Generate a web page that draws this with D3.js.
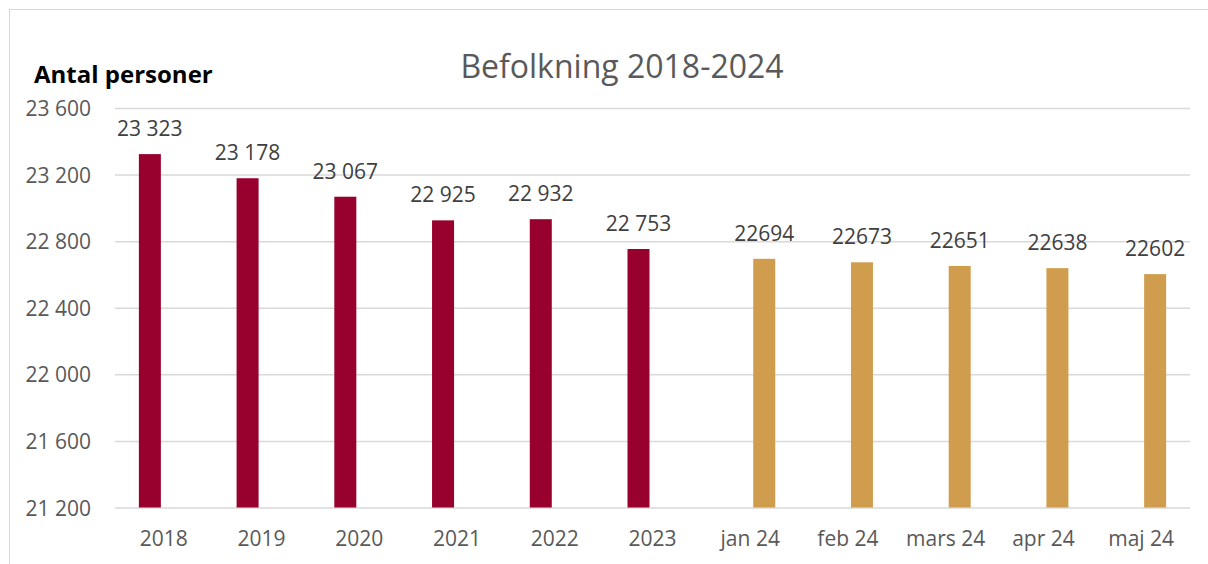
<!DOCTYPE html>
<html>
<head>
<meta charset="utf-8">
<script src="https://cdn.jsdelivr.net/npm/d3@7"></script>
<style>
  body { margin: 0; background: #fff; }
  svg { display: block; font-family: "Open Sans", sans-serif; }
</style>
</head>
<body>
<script>
// Befolkning 2018-2024
let categories = ['2018', '2019', '2020', '2021', '2022', '2023',
    'jan 24', 'feb 24', 'mars 24', 'apr 24', 'maj 24'];
let seriesNames = ['year', 'month'];
// yearly values (red), monthly values 2024 (gold)
let yearValues = [23323, 23178, 23067, 22925, 22932, 22753, null, null, null, null, null];
let monthValues = [null, null, null, null, null, null, 22694, 22673, 22651, 22638, 22602];
let yTicks = [21200, 21600, 22000, 22400, 22800, 23200, 23600];

let width = 1208, height = 564;
let margin = {top: 108, right: 18, bottom: 56, left: 115};

let colors = {year: '#98002E', month: '#CF9D4D'};

let svg = d3.select('body').append('svg')
    .attr('width', width)
    .attr('height', height);

// chart border (only top/left visible)
svg.append('rect')
    .attr('x', 9.5).attr('y', 9.5)
    .attr('width', width).attr('height', height)
    .attr('fill', 'none')
    .attr('stroke', '#d9d9d9');

let x = d3.scaleBand()
    .domain(categories)
    .range([margin.left, width - margin.right]);

let xInner = d3.scaleBand()
    .domain(seriesNames)
    .range([-25, 25])
    .paddingInner(6 / 28);

let y = d3.scaleLinear()
    .domain([21200, 23600])
    .range([height - margin.bottom - 0.5, margin.top]);

let spaceFmt = d3.formatLocale({decimal: ',', thousands: ' ', grouping: [3], currency: ['', '']}).format(',d');

// grid
let grid = svg.append('g')
    .attr('transform', 'translate(' + margin.left + ',0)')
    .call(d3.axisLeft(y).tickValues(yTicks).tickSize(-(width - margin.right - margin.left)).tickFormat(''));
grid.select('.domain').remove();
grid.selectAll('line').attr('stroke', '#d9d9d9').attr('stroke-width', 1.5);

// y axis labels
let yAxis = svg.append('g')
    .attr('transform', 'translate(91,0)')
    .call(d3.axisLeft(y).tickValues(yTicks).tickSize(0).tickPadding(0).tickFormat(spaceFmt));
yAxis.select('.domain').remove();
yAxis.selectAll('text')
    .attr('font-family', '"Open Sans", sans-serif')
    .attr('font-size', 21)
    .attr('fill', '#595959')
    .attr('dy', '0.36em');

// x axis labels
let xAxis = svg.append('g')
    .attr('transform', 'translate(0,' + y(21200) + ')')
    .call(d3.axisBottom(x).tickSize(0).tickPadding(24));
xAxis.select('.domain').remove();
xAxis.selectAll('text')
    .attr('font-family', '"Open Sans", sans-serif')
    .attr('font-size', 21)
    .attr('fill', '#595959')
    .attr('dy', '0.68em');

// bars
let rows = categories.map((c, i) => ({cat: c, year: yearValues[i], month: monthValues[i]}));

seriesNames.forEach(s => {
    let data = rows.filter(r => r[s] != null);
    let g = svg.append('g').attr('class', 'series-' + s);

    g.selectAll('rect')
        .data(data)
        .enter()
        .append('rect')
        .attr('x', d => x(d.cat) + x.bandwidth() / 2 + xInner(s))
        .attr('y', d => y(d[s]))
        .attr('width', xInner.bandwidth())
        .attr('height', d => y(21200) - y(d[s]))
        .attr('fill', colors[s]);

    g.selectAll('text')
        .data(data)
        .enter()
        .append('text')
        .attr('x', d => x(d.cat) + x.bandwidth() / 2 + xInner(s) + xInner.bandwidth() / 2)
        .attr('y', d => y(d[s]) - 18)
        .attr('text-anchor', 'middle')
        .attr('font-size', 21)
        .attr('fill', '#404040')
        .text(d => s === 'year' ? spaceFmt(d[s]) : d[s]);
});

// title
svg.append('text')
    .attr('x', 622)
    .attr('y', 78)
    .attr('text-anchor', 'middle')
    .attr('font-size', 32)
    .attr('fill', '#595959')
    .text('Befolkning 2018-2024');

// y axis title
svg.append('text')
    .attr('x', 34)
    .attr('y', 83)
    .attr('font-size', 24)
    .attr('font-weight', 'bold')
    .attr('fill', '#000')
    .text('Antal personer');
</script>
</body>
</html>
